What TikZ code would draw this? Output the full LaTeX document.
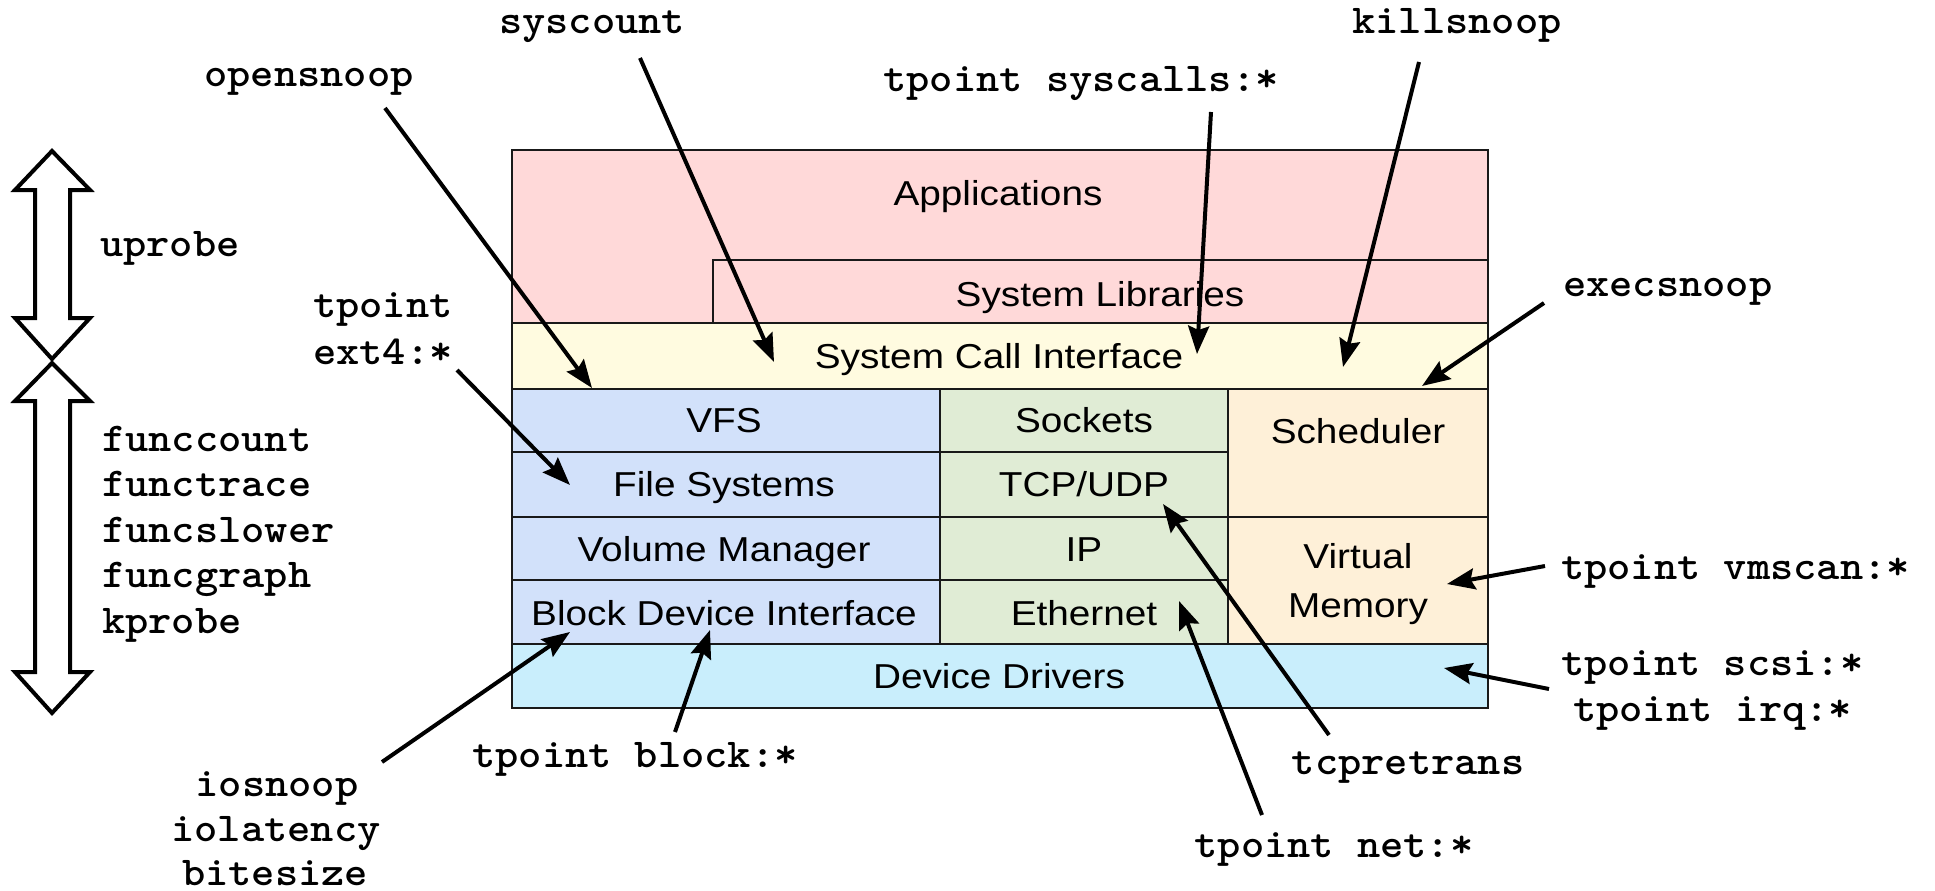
\documentclass[tikz,border=0pt]{standalone}
\usepackage{fontspec}
\setmainfont{Liberation Sans}[FakeStretch=1.12]
\newfontfamily\probefont{lmmonolt10-bold.otf}[FakeStretch=1.08]
\usetikzlibrary{arrows.meta}

\definecolor{appfill}{HTML}{FFD9D9}
\definecolor{scifill}{HTML}{FFFBE0}
\definecolor{fsfill}{HTML}{D2E1FA}
\definecolor{netfill}{HTML}{E0ECD5}
\definecolor{cpufill}{HTML}{FEF0D8}
\definecolor{drvfill}{HTML}{C9EEFC}

\tikzset{
  layer/.style={draw=black!90, line width=2pt, anchor=north west,
    inner sep=0pt, outer sep=0pt},
  layertext/.style={font=\fontsize{34.6}{40}\selectfont,
    text height=24.8pt, text depth=0pt, inner sep=0pt},
  probe/.style={font=\probefont\fontsize{41}{48}\selectfont, inner sep=0pt},
  tracer/.style={line width=4pt, -{Stealth[length=28pt,width=21pt,inset=4pt]}},
  span/.style={draw=black, line width=4pt, fill=white, line join=miter},
}

\begin{document}
\begin{tikzpicture}[x=1pt, y=-1pt]
\useasboundingbox (0,0) rectangle (1935,891);

% ---- software stack ----
\node[layer, fill=appfill, minimum width=976pt, minimum height=173pt] (apps) at (512,150) {};
\node[layer, fill=appfill, minimum width=775pt, minimum height=63pt] (syslib) at (713,260) {};
\node[layer, fill=scifill, minimum width=976pt, minimum height=66pt] (sci) at (512,323) {};

\node[layer, fill=fsfill, minimum width=428pt, minimum height=63pt] (vfs) at (512,389) {};
\node[layer, fill=fsfill, minimum width=428pt, minimum height=65pt] (fsys) at (512,452) {};
\node[layer, fill=fsfill, minimum width=428pt, minimum height=63pt] (volmgr) at (512,517) {};
\node[layer, fill=fsfill, minimum width=428pt, minimum height=64pt] (bdi) at (512,580) {};

\node[layer, fill=netfill, minimum width=288pt, minimum height=63pt] (sockets) at (940,389) {};
\node[layer, fill=netfill, minimum width=288pt, minimum height=65pt] (tcpudp) at (940,452) {};
\node[layer, fill=netfill, minimum width=288pt, minimum height=63pt] (ip) at (940,517) {};
\node[layer, fill=netfill, minimum width=288pt, minimum height=64pt] (ether) at (940,580) {};

\node[layer, fill=cpufill, minimum width=260pt, minimum height=128pt] (sched) at (1228,389) {};
\node[layer, fill=cpufill, minimum width=260pt, minimum height=127pt] (vm) at (1228,517) {};

\node[layer, fill=drvfill, minimum width=976pt, minimum height=64pt] (drv) at (512,644) {};

% ---- layer names ----
\node[layertext] (apps-t) at (998,193) {Applications};
\node[layertext] (syslib-t) at (1100,294) {System Libraries};
\node[layertext] (sci-t) at (999,356) {System Call Interface};
\node[layertext] (vfs-t) at (724,420) {VFS};
\node[layertext] (fsys-t) at (724,484) {File Systems};
\node[layertext] (volmgr-t) at (724,549) {Volume Manager};
\node[layertext] (bdi-t) at (724,613) {Block Device Interface};
\node[layertext] (sockets-t) at (1084,420) {Sockets};
\node[layertext] (tcpudp-t) at (1084,484) {TCP/UDP};
\node[layertext] (ip-t) at (1084,549) {IP};
\node[layertext] (ether-t) at (1084,613) {Ethernet};
\node[layertext] (sched-t) at (1358,431) {Scheduler};
\node[layertext] (vm-t1) at (1358,556) {Virtual};
\node[layertext] (vm-t2) at (1358,605) {Memory};
\node[layertext] (drv-t) at (999,676) {Device Drivers};

% ---- user / kernel probe spans ----
\draw[span] (52,151) -- (90,190) -- (70,190) -- (70,318) -- (90,318) -- (52,359)
  -- (15,318) -- (35,318) -- (35,190) -- (15,190) -- cycle;
\draw[span] (52,363) -- (90,401) -- (70,401) -- (70,672) -- (90,672) -- (52,713)
  -- (15,672) -- (35,672) -- (35,401) -- (15,401) -- cycle;

% ---- tool names ----
\node[probe, anchor=base west] (uprobe) at (100,256) {uprobe};
\node[probe, anchor=base west] (funccount) at (102,451) {funccount};
\node[probe, anchor=base west] (functrace) at (102,496) {functrace};
\node[probe, anchor=base west] (funcslower) at (102,542) {funcslower};
\node[probe, anchor=base west] (funcgraph) at (102,587) {funcgraph};
\node[probe, anchor=base west] (kprobe) at (102,633) {kprobe};

\node[probe, anchor=base] (syscount) at (592,34) {syscount};
\node[probe, anchor=base] (opensnoop) at (309,86) {opensnoop};
\node[probe, anchor=base] (syscalls) at (1081,92) {tpoint syscalls:*};
\node[probe, anchor=base] (killsnoop) at (1457,34) {killsnoop};
\node[probe, anchor=base west] (ext4a) at (313,317) {tpoint};
\node[probe, anchor=base west] (ext4b) at (313,364) {ext4:*};
\node[probe, anchor=base west] (execsnoop) at (1563,296) {execsnoop};
\node[probe, anchor=base west] (vmscan) at (1561,579) {tpoint vmscan:*};
\node[probe, anchor=base west] (scsi) at (1561,675) {tpoint scsi:*};
\node[probe, anchor=base west] (irq) at (1573,721) {tpoint irq:*};
\node[probe, anchor=base] (block) at (635,767) {tpoint block:*};
\node[probe, anchor=base] (tcpretrans) at (1408,774) {tcpretrans};
\node[probe, anchor=base] (net) at (1334,857) {tpoint net:*};
\node[probe, anchor=base] (iosnoop) at (277,796) {iosnoop};
\node[probe, anchor=base] (iolatency) at (276,841) {iolatency};
\node[probe, anchor=base] (bitesize) at (275,885) {bitesize};

% ---- instrumentation points ----
\coordinate (open-a) at (385,108);   \coordinate (open-b) at (592,388);
\coordinate (sysc-a) at (640,58);    \coordinate (sysc-b) at (774,362);
\coordinate (tsys-a) at (1211,112);  \coordinate (tsys-b) at (1197,354);
\coordinate (kill-a) at (1419,62);   \coordinate (kill-b) at (1343,367);
\coordinate (exec-a) at (1544,303);  \coordinate (exec-b) at (1422,386);
\coordinate (ext4-a) at (457,370);   \coordinate (ext4-b) at (570,485);
\coordinate (tcpr-a) at (1329,735);  \coordinate (tcpr-b) at (1163,504);
\coordinate (net-a) at (1262,815);   \coordinate (net-b) at (1179,601);
\coordinate (vms-a) at (1545,566);   \coordinate (vms-b) at (1447,584);
\coordinate (scsi-a) at (1549,689);  \coordinate (scsi-b) at (1444,668);
\coordinate (blk-a) at (675,732);    \coordinate (blk-b) at (710,630);
\coordinate (ios-a) at (382,762);    \coordinate (ios-b) at (570,632);

\draw[tracer] (open-a) -- (open-b);
\draw[tracer] (sysc-a) -- (sysc-b);
\draw[tracer] (tsys-a) -- (tsys-b);
\draw[tracer] (kill-a) -- (kill-b);
\draw[tracer] (exec-a) -- (exec-b);
\draw[tracer] (ext4-a) -- (ext4-b);
\draw[tracer] (tcpr-a) -- (tcpr-b);
\draw[tracer] (net-a) -- (net-b);
\draw[tracer] (vms-a) -- (vms-b);
\draw[tracer] (scsi-a) -- (scsi-b);
\draw[tracer] (blk-a) -- (blk-b);
\draw[tracer] (ios-a) -- (ios-b);
\end{tikzpicture}
\end{document}
